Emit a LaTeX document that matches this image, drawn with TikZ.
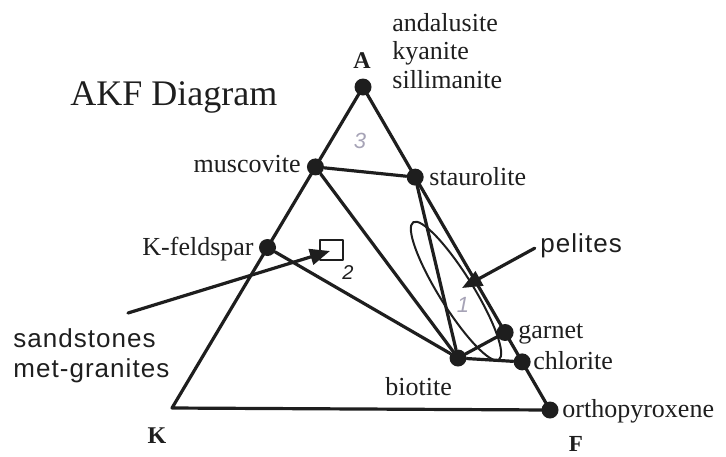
\documentclass[tikz,border=0pt]{standalone}
\usepackage{fontspec}
\setmainfont{Liberation Serif}
\newfontfamily\labelsans{Liberation Sans}[LetterSpace=4]
\usepackage{tikz}
\usetikzlibrary{arrows.meta,positioning,calc}
\definecolor{PencilGray}{HTML}{A6A3B6}
\definecolor{InkDark}{HTML}{1E1E1E}

\tikzset{
  mineral/.style={circle,fill=InkDark,inner sep=0pt,minimum size=8.5pt},
  tieline/.style={draw=InkDark,line width=1.6pt},
  pointer/.style={draw=InkDark,line width=1.6pt,-{Triangle[length=10pt,width=8pt]}},
  phase/.style={inner sep=0pt,text=InkDark},
  rockname/.style={inner sep=0pt,text=InkDark,font=\labelsans\fontsize{13}{15}\selectfont},
  pencil/.style={inner sep=0pt,text=PencilGray,font=\labelsans\itshape\fontsize{11}{12}\selectfont},
}

\begin{document}
\begin{tikzpicture}[x=0.5pt,y=-0.5pt,font=\fontsize{13}{14.2}\selectfont,line cap=round,line join=round]
 \useasboundingbox (0,0) rectangle (726,456);
 % corners of the triangle
 \node[mineral] (A) at (363,87) {};
 \coordinate (K) at (172,408);
 \node[mineral] (opx) at (550,410) {};
 \draw[tieline] (A.center) -- (K) -- (opx.center) -- cycle;
 % phases on the edges and inside
 \node[mineral] (musc) at ($(A)!0.249!(K)$) {};
 \node[mineral] (kfs) at ($(A)!0.5!(K)$) {};
 \node[mineral] (staur) at ($(A)!0.279!(opx)$) {};
 \node[mineral] (grt) at ($(A)!0.76!(opx)$) {};
 \node[mineral] (chl) at ($(A)!0.851!(opx)$) {};
 \node[mineral] (bio) at (458,358) {};
 \draw[tieline] (musc) -- (staur);
 \draw[tieline] (musc) -- (bio);
 \draw[tieline] (kfs) -- (bio);
 \draw[tieline] (staur) -- (bio);
 \draw[tieline] (bio) -- (grt);
 \draw[tieline] (bio) -- (chl);
 % pelite field
 \draw[draw=InkDark,line width=1pt,rotate around={-58.1:(456,291)}] (456,291) ellipse (81 and 17);
 % labels
 \node[phase,anchor=base west,font=\fontsize{18}{20}\selectfont] (title) at (70,105) {AKF Diagram};
 \node[phase,anchor=base,font=\bfseries\fontsize{12}{14}\selectfont] (Alab) at (362,68) {A};
 \node[phase,anchor=base,font=\bfseries\fontsize{12}{14}\selectfont] (Klab) at (157,443) {K};
 \node[phase,anchor=base,font=\bfseries\fontsize{11.5}{14}\selectfont] (Flab) at (576,451) {F};
 \node[phase,anchor=base west,align=left] (alsi) at (392,88) {andalusite\\kyanite\\sillimanite};
 \node[phase,anchor=base east] (muscl) at (301,172) {muscovite};
 \node[phase,anchor=base west] (staurl) at (429,185) {staurolite};
 \node[phase,anchor=base east] (kfsl) at (254,255) {K-feldspar};
 \node[phase,anchor=base west] (grtl) at (518,338) {garnet};
 \node[phase,anchor=base west] (chll) at (533,369) {chlorite};
 \node[phase,anchor=base west] (opxl) at (562,417) {orthopyroxene};
 \node[phase,anchor=base west] (biol) at (385,395) {biotite};
 \node[rockname,anchor=base west] (pel) at (540,252) {pelites};
 \node[rockname,anchor=base west,align=left] (sand) at (13,377) {sandstones\\met-granites};
 % pointers
 \coordinate (pelhead) at (462,288);
 \coordinate (sandtail) at (128,313);
 \coordinate (sandhead) at (330,251);
 \draw[pointer,shorten <=3pt] (pel.west) -- (pelhead);
 \draw[pointer] (sandtail) -- (sandhead);
 % pencil marks
 \draw[draw=InkDark,line width=1.1pt] (320,240) rectangle (343,260);
 \node[phase,font=\labelsans\itshape\fontsize{10}{12}\selectfont] (two) at (348,273) {2};
 \node[pencil] (three) at (360,141) {3};
 \node[pencil] (one) at (463,305) {1};
\end{tikzpicture}
\end{document}
